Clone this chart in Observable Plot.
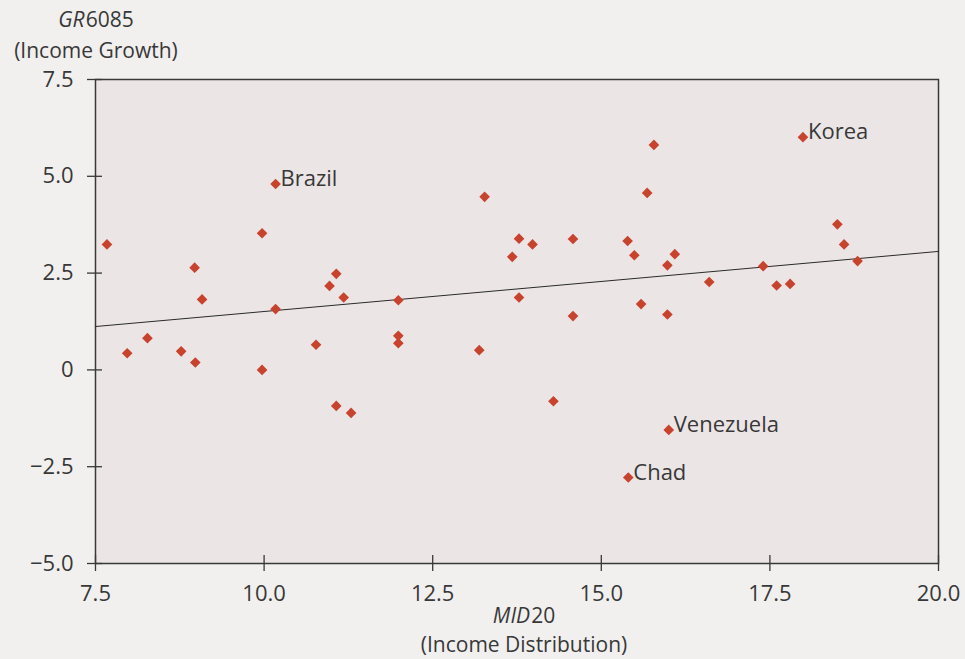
<!DOCTYPE html>
<html><head><meta charset="utf-8">
<script src="https://cdn.jsdelivr.net/npm/d3@7"></script>
<script src="https://cdn.jsdelivr.net/npm/@observablehq/plot@0.6"></script>
<style>
body{margin:0;background:#f1f0ef;}
#chart{width:965px;height:659px;}
</style>
</head><body><div id="chart"></div>
<script>
// MID20 (income distribution, share of middle 20%)
const mid20 = [7.67, 7.97, 8.27, 8.77, 8.97, 8.98, 9.08, 9.97, 9.97, 10.17,
  10.17, 10.77, 10.97, 11.07, 11.18, 11.07, 11.29, 11.99, 11.99, 11.99,
  13.19, 13.27, 13.68, 13.78, 13.78, 13.98, 14.58, 14.58, 14.29, 15.39,
  15.49, 15.68, 15.78, 15.59, 15.98, 16.09, 15.98, 16.60, 16.00, 15.40,
  17.99, 18.50, 18.60, 18.80, 17.40, 17.60, 17.80];
// GR6085 (income growth)
const gr6085 = [3.24, 0.43, 0.82, 0.48, 2.64, 0.19, 1.82, 3.53, 0.00, 4.80,
  1.57, 0.65, 2.17, 2.48, 1.87, -0.93, -1.11, 1.80, 0.88, 0.69,
  0.51, 4.47, 2.92, 3.39, 1.87, 3.24, 3.38, 1.39, -0.81, 3.33,
  2.96, 4.57, 5.81, 1.70, 2.70, 2.99, 1.43, 2.27, -1.55, -2.78,
  6.01, 3.76, 3.24, 2.81, 2.68, 2.18, 2.22];
// Country names (only labelled points)
const country = ["", "", "", "", "", "", "", "", "", "Brazil",
  "", "", "", "", "", "", "", "", "", "",
  "", "", "", "", "", "", "", "", "", "",
  "", "", "", "", "", "", "", "", "Venezuela", "Chad",
  "Korea", "", "", "", "", "", ""];
// Fitted regression line endpoints
const fitX = [7.5, 20.0];
const fitY = [1.12, 3.06];
// Axis ticks
const xTicks = [7.5, 10, 12.5, 15, 17.5, 20];
const xTickLabels = ["7.5", "10.0", "12.5", "15.0", "17.5", "20.0"];
const yTicks = [-5, -2.5, 0, 2.5, 5, 7.5];
const yTickLabels = ["\u22125.0", "\u22122.5", "0", "2.5", "5.0", "7.5"];

const points = mid20.map((x, i) => ({x, y: gr6085[i], name: country[i]}));
const labelled = points.filter(d => d.name);
const fit = fitX.map((x, i) => ({x, y: fitY[i]}));

const ink = "#383838";
const xMin = xTicks[0], yMin = yTicks[0];
const plot = Plot.plot({
  width: 965,
  height: 659,
  marginLeft: 95,
  marginRight: 27,
  marginTop: 79,
  marginBottom: 96,
  style: {fontFamily: "'Open Sans', sans-serif", fontSize: "22px", color: ink, background: "transparent", overflow: "visible"},
  x: {domain: [7.5, 20], label: null, axis: null},
  y: {domain: [-5, 7.5], label: null, axis: null},
  marks: [
    Plot.frame({fill: "#ebe6e5", stroke: ink, strokeWidth: 1.5}),
    Plot.axisX({ticks: xTicks, tickFormat: d => xTickLabels[xTicks.indexOf(d)], tickSize: 0, tickPadding: 22, label: null, fill: ink}),
    Plot.axisY({ticks: yTicks, tickFormat: d => yTickLabels[yTicks.indexOf(d)], tickSize: 0, tickPadding: 22, label: null, fill: ink}),
    // tick marks that cross the axis lines
    Plot.ruleX(xTicks, {x: d => d, y1: () => yMin, y2: () => yMin, insetTop: -8, insetBottom: -8, stroke: ink, strokeWidth: 1.3}),
    Plot.ruleY(yTicks, {y: d => d, x1: () => xMin, x2: () => xMin, insetLeft: -8, insetRight: -7, stroke: ink, strokeWidth: 1.3}),
    Plot.line(fit, {x: "x", y: "y", stroke: "#2a2a2a", strokeWidth: 1}),
    Plot.dot(points, {x: "x", y: "y", symbol: "diamond2", r: 4.8, fill: "#c8432d", stroke: null}),
    Plot.text(labelled, {x: "x", y: "y", text: "name", textAnchor: "start", lineAnchor: "bottom", dx: 5, dy: 2, fill: ink, fontSize: 22})
  ]
});
document.getElementById("chart").append(plot);

// Axis titles (italic variable names + descriptions)
const svg = d3.select(plot);
const addTitle = (x, y, italic, rest) => {
  const t = svg.append("text").attr("x", x).attr("y", y).attr("text-anchor", "middle")
    .attr("fill", ink).style("font-size", "21px").style("font-family", "'Open Sans', sans-serif");
  if (italic) t.append("tspan").style("font-style", "italic").text(italic);
  t.append("tspan").attr("dx", italic ? 1 : 0).text(rest);
};
addTitle(96, 27, "GR", "6085");
addTitle(96, 58, "", "(Income Growth)");
addTitle(524, 623, "MID", "20");
addTitle(524, 652, "", "(Income Distribution)");
</script>
</body></html>
